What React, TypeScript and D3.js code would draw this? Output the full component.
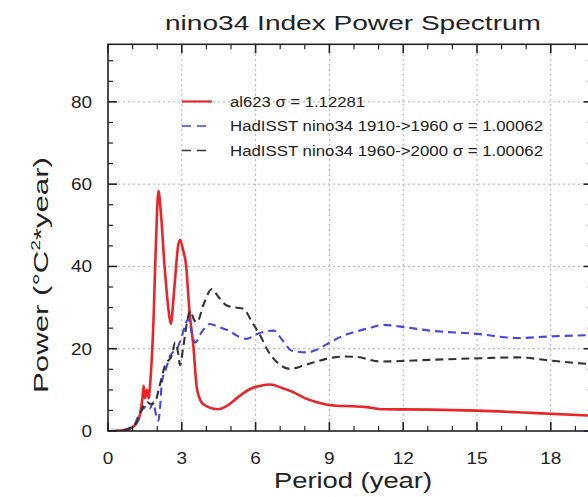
import React from 'react';
import * as d3 from 'd3';

const redPeriod = [0.1, 0.5, 0.9, 1.17, 1.3, 1.4, 1.45, 1.5, 1.58, 1.65, 1.72, 1.85, 1.95, 2.05, 2.15, 2.3, 2.45, 2.55, 2.7, 2.85, 2.93, 3.05, 3.18, 3.3, 3.48, 3.61, 3.8, 4.02, 4.3, 4.49, 4.83, 5.3, 5.78, 6.2, 6.6, 7.1, 7.55, 8.0, 8.5, 9.18, 9.99, 10.5, 11.08, 13.1, 15.0, 17.2, 19.7];
const redPower = [0, 0.1, 0.6, 2, 4, 8, 11, 8, 10, 8, 12, 27, 46, 58.4, 53, 40, 30, 26, 35, 45, 46.5, 44, 40, 30, 20, 10.5, 7, 6, 5.4, 5.3, 6.1, 8.3, 10.2, 11, 11.3, 10.4, 9.4, 8, 7, 6.2, 6.0, 5.8, 5.3, 5.2, 4.95, 4.4, 3.7];

const bluePeriod = [0.1, 0.5, 0.9, 1.1, 1.3, 1.45, 1.58, 1.7, 1.84, 1.95, 2.05, 2.12, 2.19, 2.35, 2.53, 2.7, 2.86, 3.0, 3.15, 3.27, 3.4, 3.54, 3.8, 4.15, 4.5, 4.9, 5.3, 5.65, 6.06, 6.4, 6.73, 7.1, 7.48, 8.09, 8.5, 8.9, 9.5, 9.99, 10.6, 11.2, 12.1, 13.1, 15.0, 16.65, 18.0, 19.7];
const bluePower = [0, 0.1, 0.8, 1.8, 4.5, 5.5, 6.1, 5.5, 7, 4, 2.5, 6, 11.8, 15, 18.3, 19.5, 20.7, 23, 26, 27.2, 24, 21.5, 24, 26, 25.3, 24.4, 23, 22.4, 23.6, 24.2, 24.4, 22, 19.5, 19.1, 19.8, 21.1, 23, 24, 25, 25.8, 25.2, 24.4, 23.6, 22.6, 23, 23.3];

const blackPeriod = [0.1, 0.5, 0.9, 1.1, 1.3, 1.44, 1.6, 1.75, 1.91, 2.1, 2.32, 2.59, 2.73, 2.85, 2.93, 3.05, 3.2, 3.34, 3.5, 3.61, 3.9, 4.22, 4.5, 4.83, 5.2, 5.51, 5.85, 6.19, 6.5, 6.87, 7.41, 7.9, 8.36, 9.18, 9.58, 10.1, 11.08, 13.1, 15.15, 16.65, 18.0, 19.7];
const blackPower = [0, 0.1, 0.7, 1.5, 4, 6.1, 7, 6.5, 7, 11, 16, 18.3, 21.5, 19, 16, 20, 26, 29.2, 27, 26.4, 31, 34.5, 32.5, 30.5, 30, 29.7, 26.5, 23.2, 19.5, 16.7, 15.1, 15.8, 16.7, 17.9, 18.1, 18, 16.9, 17.3, 17.7, 17.9, 17.1, 16.2];

const xTicks = [0, 3, 6, 9, 12, 15, 18];
const yTicks = [0, 20, 40, 60, 80];
const legendLabels = ['al623 σ = 1.12281', 'HadISST nino34 1910->1960 σ = 1.00062', 'HadISST nino34 1960->2000 σ = 1.00062'];
const legendWidths = [135, 313, 313];
const titleText = 'nino34 Index Power Spectrum';
const xLabel = 'Period (year)';

const FONT = '"Liberation Sans", Arial, Helvetica, sans-serif';

export default function App() {
  const x = d3.scaleLinear().domain([0, 19.7]).range([108, 592.6]);
  const y = d3.scaleLinear().domain([0, 94]).range([431, 44.3]);
  const line = d3
    .line<[number, number]>()
    .x((d) => x(d[0]))
    .y((d) => y(d[1]))
    .curve(d3.curveMonotoneX);

  const zip = (a: number[], b: number[]) => a.map((v, i) => [v, b[i]] as [number, number]);
  const series = [
    { pts: zip(redPeriod, redPower), color: '#e8262a', width: 2.6, dash: undefined as string | undefined },
    { pts: zip(bluePeriod, bluePower), color: '#4646e0', width: 2.1, dash: '8,5' },
    { pts: zip(blackPeriod, blackPower), color: '#333333', width: 2.1, dash: '8,5' },
  ];

  const [x0, x1] = x.range();
  const [yb, yt] = y.range();
  const xMinor = d3.range(0, 20, 1).filter((v) => v % 3 !== 0);
  const yMinor = d3.range(0, 94, 5).filter((v) => v % 20 !== 0);

  const legendY = [101.5, 126, 150.5];

  return (
    <svg width={588} height={497} style={{ position: 'absolute', left: 0, top: 0, background: '#fff' }} fontFamily={FONT}>
      <defs>
        <clipPath id="plot">
          <rect x={x0} y={yt} width={x1 - x0} height={yb - yt} />
        </clipPath>
      </defs>
      <rect width={588} height={497} fill="#fff" />
      {xTicks.filter((v) => v > 0).map((v) => (
        <line key={'gx' + v} x1={x(v)} x2={x(v)} y1={yb} y2={yt} stroke="#b0b0b0" strokeWidth={1} strokeDasharray="2,3" />
      ))}
      {yTicks.filter((v) => v > 0).map((v) => (
        <line key={'gy' + v} x1={x0} x2={x1} y1={y(v)} y2={y(v)} stroke="#b0b0b0" strokeWidth={1} strokeDasharray="2,3" />
      ))}
      <g clipPath="url(#plot)">
        {series.map((s, i) => (
          <path key={i} d={line(s.pts) || ''} fill="none" stroke={s.color} strokeWidth={s.width} strokeDasharray={s.dash} strokeLinejoin="round" />
        ))}
      </g>
      <rect x={x0} y={yt} width={x1 - x0} height={yb - yt} fill="none" stroke="#222" strokeWidth={1.6} />
      {xTicks.map((v) => (
        <g key={'tx' + v}>
          <line x1={x(v)} x2={x(v)} y1={yb} y2={yb - 9} stroke="#222" strokeWidth={1.6} />
          <line x1={x(v)} x2={x(v)} y1={yt} y2={yt + 9} stroke="#222" strokeWidth={1.6} />
        </g>
      ))}
      {xMinor.map((v) => (
        <g key={'mx' + v}>
          <line x1={x(v)} x2={x(v)} y1={yb} y2={yb - 5} stroke="#222" strokeWidth={1.2} />
          <line x1={x(v)} x2={x(v)} y1={yt} y2={yt + 5} stroke="#222" strokeWidth={1.2} />
        </g>
      ))}
      {yTicks.map((v) => (
        <g key={'ty' + v}>
          <line x1={x0} x2={x0 + 9} y1={y(v)} y2={y(v)} stroke="#222" strokeWidth={1.6} />
          <line x1={x1} x2={x1 - 9} y1={y(v)} y2={y(v)} stroke="#222" strokeWidth={1.6} />
        </g>
      ))}
      {yMinor.map((v) => (
        <g key={'my' + v}>
          <line x1={x0} x2={x0 + 5} y1={y(v)} y2={y(v)} stroke="#222" strokeWidth={1.2} />
          <line x1={x1} x2={x1 - 5} y1={y(v)} y2={y(v)} stroke="#222" strokeWidth={1.2} />
        </g>
      ))}
      {xTicks.map((v) => (
        <text key={'lx' + v} transform={`translate(${x(v)},464) scale(1.15,1)`} textAnchor="middle" fontSize={16.5} fill="#222">
          {v}
        </text>
      ))}
      {yTicks.map((v) => (
        <text key={'ly' + v} transform={`translate(92,${y(v) + 6}) scale(1.15,1)`} textAnchor="end" fontSize={16.5} fill="#222">
          {v}
        </text>
      ))}
      <text x={353} y={30} textAnchor="middle" fontSize={20} fill="#222" textLength={376} lengthAdjust="spacingAndGlyphs">
        {titleText}
      </text>
      <text x={353} y={488} textAnchor="middle" fontSize={22} fill="#222" textLength={158} lengthAdjust="spacingAndGlyphs">
        {xLabel}
      </text>
      <text transform="translate(48,275) rotate(-90)" textAnchor="middle" fontSize={20} fill="#222" textLength={236} lengthAdjust="spacingAndGlyphs">
        Power (°C<tspan fontSize={12} dy={-8}>2</tspan><tspan dy={8}>*year)</tspan>
      </text>
      {series.map((s, i) => (
        <g key={'lg' + i}>
          <line x1={182} x2={212} y1={legendY[i]} y2={legendY[i]} stroke={s.color} strokeWidth={s.width - 0.4} strokeDasharray={s.dash ? '9,6' : undefined} />
          <text x={230} y={legendY[i] + 5} fontSize={14} fill="#222" textLength={legendWidths[i]} lengthAdjust="spacingAndGlyphs">
            {legendLabels[i]}
          </text>
        </g>
      ))}
    </svg>
  );
}
